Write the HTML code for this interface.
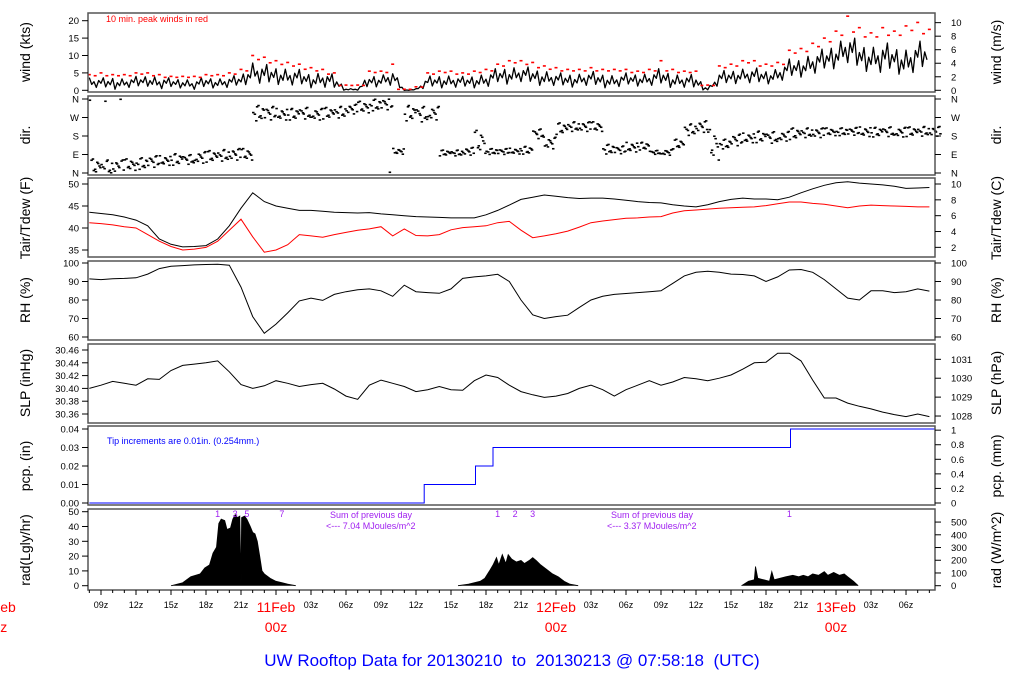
<!DOCTYPE html>
<html><head><meta charset="utf-8"><style>
html,body{margin:0;padding:0;background:#fff;}
svg{display:block;font-family:"Liberation Sans",sans-serif;}
</style></head><body>
<svg id="chart" xmlns="http://www.w3.org/2000/svg" width="1024" height="700" viewBox="0 0 1024 700">
<rect x="0" y="0" width="1024" height="700" fill="#fff"/>
<g id="marks"></g>
<g id="axes"></g>
<text x="106" y="22" font-size="9" fill="#f00">10 min. peak winds in red</text>
<text x="107" y="444" font-size="9" fill="#00f">Tip increments are 0.01in. (0.254mm.)</text>
<text x="330" y="518" font-size="9" fill="#a020f0">Sum of previous day</text>
<text x="326" y="529" font-size="9" fill="#a020f0">&lt;--- 7.04 MJoules/m^2</text>
<text x="611" y="518" font-size="9" fill="#a020f0">Sum of previous day</text>
<text x="607" y="529" font-size="9" fill="#a020f0">&lt;--- 3.37 MJoules/m^2</text>
<text x="512" y="666" font-size="17" fill="#00f" text-anchor="middle" style="white-space:pre" xml:space="preserve">UW Rooftop Data for 20130210  to  20130213 @ 07:58:18  (UTC)</text>
</svg>
<script>
const hours=[8,9,10,11,12,13,14,15,16,17,18,19,20,21,22,23,24,25,26,27,28,29,30,31,32,33,34,35,36,37,38,39,40,41,42,43,44,45,46,47,48,49,50,51,52,53,54,55,56,57,58,59,60,61,62,63,64,65,66,67,68,69,70,71,72,73,74,75,76,77,78,79,80];
const windHi=[4,3.5,4,3.5,4,4.5,4,3.5,3.5,3,4,3.5,4,4.5,8.5,7.5,7,6.5,6,5,5.5,4.5,0.5,0.5,4.5,4.5,6,0,0.5,4,4.5,4.5,4,4.5,5,6.5,7,7,6.5,6,5,5,5,5.5,5,4.5,5,5,5,6.5,5,4.5,4.5,0.5,5.5,6,6.5,6.5,6,6.5,9,9.5,11,12,14,16.5,14,13,14,13,12.5,14,14.5];
const windLo=[0.5,0.5,0,0.5,0.5,1,0,0.5,0.5,0,0.5,0.5,0.5,1,2,1,1.5,1,1,0.5,0.5,0,0,0,0.5,1,1,0,0,0.5,0.5,0.5,0.5,0.5,0.5,1.5,1.5,2,1.5,1,1,0.5,1,1,0.5,0.5,1,1,1,1,0.5,0.5,0,0,1,1.5,2,1.5,1.5,2,3,3.5,4,5,6,7,5,5,4,5,3,5,5];
const windGust=[4.5,5,4.5,4.5,5,5,4.5,4,4,4,4.5,4.5,5,6,10,9.5,8.5,8,7.5,6.5,6,5,1.5,1.5,5.5,5.5,7.5,0.3,1,5,5.5,5.5,5,5.5,6,7.5,8.5,8.5,8,7,6.5,6,6,6.5,6,6,6,5.5,6,8.5,6,5.5,5.5,1.5,7,7.5,8.5,8.5,7.5,8,11.5,12,13.5,15,17,21.3,18,16.5,18,17,18.5,19.5,17.5];
const dirCenter=[30,25,30,40,45,55,60,65,65,75,80,85,90,90,290,290,285,285,290,285,290,295,310,320,330,335,105,290,285,290,97,97,105,150,104,104,106,110,190,145,215,225,225,225,115,112,125,130,100,100,140,210,225,135,140,160,170,175,172,178,190,195,195,200,200,202,200,198,200,198,200,202,202];
const dirSpread=[40,40,35,30,30,30,25,30,25,30,30,30,30,30,40,35,30,30,30,30,30,30,25,30,30,30,15,40,40,35,15,15,20,60,15,15,15,20,25,30,30,25,25,25,25,20,25,20,10,15,25,30,30,80,25,30,25,30,30,25,30,25,25,20,20,20,25,25,25,25,25,25,25];
const tair=[43.6,43.3,43,42.5,41.8,40.5,37.5,36.3,35.7,35.8,36,37.5,40.5,44.5,48,46,45,44.5,44,44,43.8,43.6,43.5,43.4,43.5,43.2,43,42.8,42.6,42.5,42.4,42.3,42.3,42.3,43,44,45.2,46.5,47,47.5,47.2,46.9,46.7,46.8,46.8,46.6,46.3,46,45.8,45.7,45.3,45,44.8,45.3,46,46.5,46.8,46.6,46.6,46.4,47,48,48.9,49.7,50.3,50.5,50.2,50,49.8,49.5,49,49.1,49.2];
const tdew=[41.2,41,40.7,40.3,40,38.5,37,35.8,35,35.2,35.6,37,39.5,42,38,34.5,35,36.2,38.5,38.2,37.9,38.5,39,39.5,39.8,40.3,38.2,39.8,38.3,38.2,38.5,39.6,40.1,40.3,40.5,41.2,41.5,39.5,37.8,38.2,38.7,39.3,40.2,41.2,41.6,41.9,42.2,42.3,42.5,42.6,43.4,43.9,44.1,44.3,44.5,44.6,44.7,44.8,45.1,45.5,45.9,45.9,45.6,45.4,45,44.6,45,45.2,45.1,45,44.9,44.8,44.8];
const rh=[91.4,91,91.5,91.7,92,94,97,98.2,98.6,99,99.2,99.3,98.8,87,71,62,67,73,79.5,81,79.8,83,84.5,85.5,86,85,82,88,84.5,84,83.6,86,91.7,92.5,93,93.9,90,80,72,70,71,71.8,76,80,82,83,83.5,84,84.5,85,89,93,95,95.5,95,94,93.8,93,90,92.5,96.2,96.5,95,91,86,81,80,85,85,84,84.5,86,84.8];
const slp=[30.400,30.405,30.411,30.408,30.405,30.415,30.414,30.428,30.436,30.438,30.440,30.443,30.426,30.406,30.400,30.404,30.412,30.408,30.403,30.406,30.408,30.399,30.388,30.383,30.405,30.413,30.408,30.403,30.395,30.398,30.403,30.398,30.397,30.412,30.421,30.417,30.405,30.395,30.390,30.386,30.388,30.392,30.400,30.405,30.398,30.388,30.398,30.405,30.412,30.405,30.410,30.417,30.415,30.412,30.416,30.421,30.430,30.440,30.441,30.455,30.455,30.443,30.413,30.385,30.385,30.377,30.372,30.368,30.363,30.359,30.356,30.360,30.356];
const pcpTimes=[8,36.7,41.1,42.6,68.1];
const pcpValues=[0,0.01,0.02,0.03,0.04];
const radTimes=[15,16,16.7,17.5,17.9,18.3,18.6,18.9,19.1,19.3,19.6,19.8,20.1,20.3,20.5,20.7,20.9,21.0,21.05,21.3,21.5,21.8,22.0,22.2,22.4,22.6,22.8,23.0,23.5,24,24.5,25,25.7,
39.6,40.5,41.5,41.9,42.3,42.6,42.9,43.1,43.4,43.7,43.9,44.2,44.6,45,45.3,45.7,46,46.3,46.7,47.2,47.7,48.2,48.7,49.2,49.9,
63.9,64.5,65,65.1,65.3,65.8,66.3,66.5,66.7,67.2,67.7,68.3,68.8,69.2,69.6,70,70.5,71,71.3,71.8,72.3,72.7,73,73.5,73.9];
const radValues=[0,2,6,8,12,14,22,26,42,45,44,38,39,45,48,46,47,2,46,47,45,40,36,35,30,20,10,8,5,3,2,1,0,
0,1,3,5,10,14,19,14,21,15,21,18,16,17,15,17,19,17,14,11,8,6,3,1,0,
0,3,4,13,5,4,3,9.5,4,5,6,7,6,7,6,8,7,9.5,7,9,7,8,6,3,0];
const radHourTimes=[19,20.5,21.5,24.5,43,44.5,46,68];
const radHourLabels=["1","3","5","7","1","2","3","1"];
const tickHours=[9,12,15,18,21,24,27,30,33,36,39,42,45,48,51,54,57,60,63,66,69,72,75,78];

const NS='http://www.w3.org/2000/svg';
const marks=document.getElementById('marks');
const axes=document.getElementById('axes');
function mk(tag,attrs,parent){const e=document.createElementNS(NS,tag);for(const k in attrs)e.setAttribute(k,attrs[k]);(parent||marks).appendChild(e);return e;}
const X0=88,X1=935;
function xs(t){return 276+(t-24)*11.667;}
const yWind=v=>90.3-v*3.48;
const yDir=d=>173-d/360*74;
const yT=v=>184-(v-50)*4.4;
const yRH=v=>263-(v-100)*1.85;
const ySLP=v=>350-(v-30.46)*640;
const yPcp=v=>503-v*1850;
const yRad=v=>585.7-v*1.48;

const panels=[[13,92,'wind-panel'],[96,175,'direction-panel'],[178,257,'temperature-panel'],[261,340,'rh-panel'],[344,423,'slp-panel'],[426,505,'precip-panel'],[509,590,'radiation-panel']];
for(const p of panels){
  const r=mk('rect',{x:X0,y:p[0],width:X1-X0,height:p[1]-p[0],fill:'none',stroke:'#555','stroke-width':1.5},axes);
  
  
}

// wind band
const pat=[0.9,0.35,0.6,0.1,0.75,0.5,1,0.2,0.65,0.4,0.85,0.05,0.55,0.3];
let wd='';
const sub=5;
let pk=0;
for(let i=0;i<hours.length-1;i++){
  for(let j=0;j<sub;j++){
    const f=j/sub;
    const hi=windHi[i]+(windHi[i+1]-windHi[i])*f;
    const lo=windLo[i]+(windLo[i+1]-windLo[i])*f;
    const v=lo+(hi-lo)*pat[pk%pat.length];
    pk++;
    wd+=(wd?'L':'M')+xs(hours[i]+f).toFixed(1)+' '+yWind(v).toFixed(1);
  }
}
const wl=mk('path',{d:wd,fill:'none',stroke:'#000','stroke-width':1.3,'stroke-linejoin':'round'});


for(let i=0;i<hours.length;i++){
  const g=mk('rect',{x:xs(hours[i])-1.5,y:yWind(windGust[i])-0.8,width:3,height:1.6,fill:'#f00'});
  
  
  if(i<hours.length-1){
    const g2=mk('rect',{x:xs(hours[i]+0.5)-1.5,y:yWind(Math.min(windGust[i],windGust[i+1])*0.93)-0.8,width:3,height:1.6,fill:'#f00'});
    
    
  }
}

// direction dots
const dp=[-0.9,0.4,-0.3,0.8,0.1,-0.6,0.95,-0.1,0.55,-0.45];
const dt=[0.03,0.17,0.29,0.36,0.48,0.55,0.66,0.74,0.85,0.93];
for(let i=0;i<hours.length;i++){
  for(let k=0;k<dp.length;k++){
    let d=dirCenter[i]+dp[(k*3+i)%dp.length]*dirSpread[i];
    d=((d%360)+360)%360;
    const r=mk('rect',{x:xs(hours[i]+dt[k])-1,y:yDir(d)-0.8,width:2.5,height:1.6,fill:'#000'});
    
    
  }
}

function line(arr,fy,color){
  let d='';
  for(let i=0;i<hours.length;i++)d+=(i?'L':'M')+xs(hours[i]).toFixed(1)+' '+fy(arr[i]).toFixed(1);
  return mk('path',{d:d,fill:'none',stroke:color,'stroke-width':1});
}
const la=line(tair,yT,'#000');


const ld=line(tdew,yT,'#f00');


const lr=line(rh,yRH,'#000');


const ls=line(slp,ySLP,'#000');



let pd='M'+xs(pcpTimes[0])+' '+yPcp(pcpValues[0]);
for(let i=1;i<pcpTimes.length;i++){pd+='L'+xs(pcpTimes[i]).toFixed(1)+' '+yPcp(pcpValues[i-1]).toFixed(1)+'L'+xs(pcpTimes[i]).toFixed(1)+' '+yPcp(pcpValues[i]).toFixed(1);}
pd+='L'+X1+' '+yPcp(pcpValues[pcpValues.length-1]).toFixed(1);
const pl=mk('path',{d:pd,fill:'none',stroke:'#00f','stroke-width':1});



let rd='';
for(let i=0;i<radTimes.length;i++){
  rd+=(i&&radValues[i-1]!==0||i&&radValues[i]!==0?'L':'M')+xs(radTimes[i]).toFixed(1)+' '+yRad(radValues[i]).toFixed(1);
}
const rp=mk('path',{d:rd,fill:'#000',stroke:'#000','stroke-width':0.8});


for(let i=0;i<radHourTimes.length;i++){
  const t=mk('text',{x:xs(radHourTimes[i]),y:517,'font-size':9,fill:'#a020f0','text-anchor':'middle'});
  t.textContent=radHourLabels[i];
  
  
}

function leftAxis(vals,labels,fy,name){
  for(let i=0;i<vals.length;i++){
    const y=fy(vals[i]);
    mk('line',{x1:82,x2:88,y1:y,y2:y,stroke:'#000','stroke-width':1},axes);
    const t=mk('text',{x:79,y:y+3.5,'font-size':9.5,'text-anchor':'end',fill:'#000'},axes);
    t.textContent=labels[i];
    
    
  }
}
function rightAxis(vals,labels,fy,name){
  for(let i=0;i<vals.length;i++){
    const y=fy(vals[i]);
    mk('line',{x1:935,x2:941,y1:y,y2:y,stroke:'#000','stroke-width':1},axes);
    const t=mk('text',{x:951,y:y+3.5,'font-size':9.5,fill:'#000'},axes);
    t.textContent=labels[i];
    
    
  }
}
function title(x,y,txt,name){
  const t=mk('text',{x:x,y:y,'font-size':14,'text-anchor':'middle',fill:'#000',transform:'rotate(-90 '+x+' '+y+')'},axes);
  t.textContent=txt;
  
  
}
leftAxis([0,5,10,15,20],['0','5','10','15','20'],yWind,'wind-kts');
rightAxis([0,2,4,6,8,10].map(v=>v/0.5144),['0','2','4','6','8','10'],yWind,'wind-ms');
leftAxis([0,90,180,270,360],['N','E','S','W','N'],yDir,'dir-left');
rightAxis([0,90,180,270,360],['N','E','S','W','N'],yDir,'dir-right');
leftAxis([35,40,45,50],['35','40','45','50'],yT,'temp-f');
rightAxis([2,4,6,8,10].map(c=>c*1.8+32),['2','4','6','8','10'],yT,'temp-c');
leftAxis([60,70,80,90,100],['60','70','80','90','100'],yRH,'rh-left');
rightAxis([60,70,80,90,100],['60','70','80','90','100'],yRH,'rh-right');
leftAxis([30.36,30.38,30.40,30.42,30.44,30.46],['30.36','30.38','30.40','30.42','30.44','30.46'],ySLP,'slp-inhg');
rightAxis([1028,1029,1030,1031].map(h=>h*0.02953),['1028','1029','1030','1031'],ySLP,'slp-hpa');
leftAxis([0,0.01,0.02,0.03,0.04],['0.00','0.01','0.02','0.03','0.04'],yPcp,'pcp-in');
rightAxis([0,0.2,0.4,0.6,0.8,1].map(m=>m/25.4),['0','0.2','0.4','0.6','0.8','1'],yPcp,'pcp-mm');
leftAxis([0,10,20,30,40,50],['0','10','20','30','40','50'],yRad,'rad-ly');
rightAxis([0,100,200,300,400,500].map(w=>w/11.63),['0','100','200','300','400','500'],yRad,'rad-wm2');

title(30,52,'wind (kts)','wind-kts-title');
title(30,135,'dir.','dir-title');
title(30,218,'Tair/Tdew (F)','temp-f-title');
title(30,300,'RH (%)','rh-title');
title(30,383,'SLP (inHg)','slp-inhg-title');
title(30,466,'pcp. (in)','pcp-in-title');
title(30,550,'rad(Lgly/hr)','rad-ly-title');
title(1001,52,'wind (m/s)','wind-ms-title');
title(1001,135,'dir.','dir-right-title');
title(1001,218,'Tair/Tdew (C)','temp-c-title');
title(1001,300,'RH (%)','rh-right-title');
title(1001,383,'SLP (hPa)','slp-hpa-title');
title(1001,466,'pcp. (mm)','pcp-mm-title');
title(1001,550,'rad (W/m^2)','rad-wm2-title');

for(let h=8;h<=80;h++){
  const x=xs(h);
  mk('line',{x1:x,x2:x,y1:590,y2:h%3===0?595:593,stroke:'#000','stroke-width':1},axes);
}
for(const h of tickHours){
  if(h%24===0)continue;
  const t=mk('text',{x:xs(h),y:608,'font-size':9,'text-anchor':'middle',fill:'#000'},axes);
  t.textContent=String(h%24).padStart(2,'0')+'z';
  
  
}
const days=[[0,'10Feb'],[24,'11Feb'],[48,'12Feb'],[72,'13Feb']];
for(const d of days){
  const t1=mk('text',{x:xs(d[0]),y:612,'font-size':14,'text-anchor':'middle',fill:'#f00'},axes);
  t1.textContent=d[1];
  
  
  const t2=mk('text',{x:xs(d[0]),y:632,'font-size':14,'text-anchor':'middle',fill:'#f00'},axes);
  t2.textContent='00z';
  
  
}
</script>
</body></html>
